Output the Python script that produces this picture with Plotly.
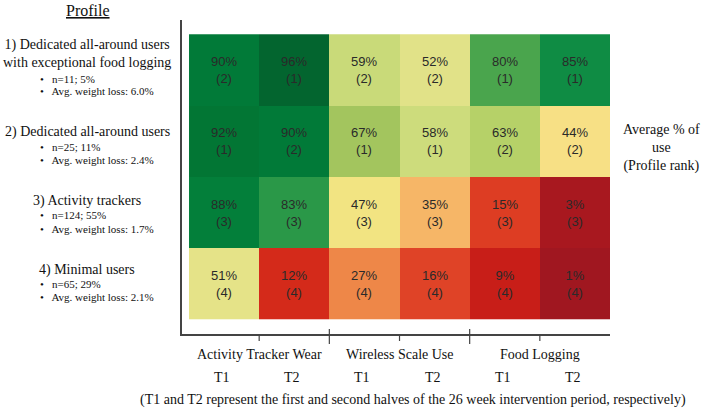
import plotly.graph_objects as go

# --- data ---
profiles = [
    "1) Dedicated all-around users<br>with exceptional food logging",
    "2) Dedicated all-around users",
    "3) Activity trackers",
    "4) Minimal users",
]
profile_n = ["n=11; 5%", "n=25; 11%", "n=124; 55%", "n=65; 29%"]
profile_loss = ["Avg. weight loss: 6.0%", "Avg. weight loss: 2.4%",
                "Avg. weight loss: 1.7%", "Avg. weight loss: 2.1%"]
measures = ["Activity Tracker Wear", "Wireless Scale Use", "Food Logging"]
periods = ["T1", "T2", "T1", "T2", "T1", "T2"]

pct_use = [
    [90, 96, 59, 52, 80, 85],
    [92, 90, 67, 58, 63, 44],
    [88, 83, 47, 35, 15, 3],
    [51, 12, 27, 16, 9, 1],
]
profile_rank = [
    [2, 1, 2, 2, 1, 1],
    [1, 2, 1, 1, 2, 2],
    [3, 3, 3, 3, 3, 3],
    [4, 4, 4, 4, 4, 4],
]

# red -> yellow -> green scale tuned to the original cell colours
scale_stops = [0.0, 0.03, 0.09, 0.12, 0.155, 0.27, 0.35, 0.44, 0.47, 0.515,
               0.585, 0.63, 0.67, 0.80, 0.83, 0.85, 0.88, 0.90, 0.92, 0.96, 1.0]
scale_colors = ["#9c1720", "#a8181f", "#c81e18", "#d42a1a", "#de4025", "#ee8748",
                "#f6b667", "#f7e085", "#f2e482", "#e3e389", "#cbdb7b", "#b6d168",
                "#a3c55e", "#4aa54d", "#2a9848", "#0f8c44", "#037f3a", "#017a38",
                "#027634", "#03652f", "#005a2a"]

W, H = 702, 410
L, R, T, B = 182, 610, 20, 334   # plot area in pixels


def px(x):
    return (x - L) / (R - L)


def py(y):
    return (B - y) / (B - T)


serif = "Liberation Serif"

cell_text = [[f"{p}%<br>({r})" for p, r in zip(prow, rrow)]
             for prow, rrow in zip(pct_use, profile_rank)]

fig = go.Figure(go.Heatmap(
    z=pct_use,
    x=list(range(len(periods))),
    y=list(range(len(profiles))),
    text=cell_text,
    texttemplate="%{text}",
    textfont=dict(family="Liberation Sans", size=13, color="#2a2a2a"),
    colorscale=[[s, c] for s, c in zip(scale_stops, scale_colors)],
    zmin=0, zmax=100,
    showscale=False,
    hoverinfo="skip",
))

fig.update_layout(
    width=W, height=H,
    margin=dict(l=L, r=W - R, t=T, b=H - B),
    paper_bgcolor="white",
    plot_bgcolor="white",
    showlegend=False,
)
fig.update_xaxes(
    range=[-0.6, 5.5], showgrid=False, zeroline=False, showticklabels=False,
    ticks="", showline=True, linecolor="#444444", linewidth=1.5,
)
fig.update_yaxes(
    range=[3.7, -0.7], showgrid=False, zeroline=False, showticklabels=False,
    ticks="", showline=True, linecolor="#444444", linewidth=1.5,
)

# tick marks at column boundaries: long ones between measures
for i in range(len(periods) - 1):
    xb = i + 0.5
    long_tick = (i % 2 == 1)
    fig.add_shape(
        type="line", xref="x", yref="paper",
        x0=xb, x1=xb,
        y0=5 / (B - T) if long_tick else 0,
        y1=-10 / (B - T) if long_tick else -7 / (B - T),
        line=dict(color="#444444", width=1.2),
    )

ann = []
# title
ann.append(dict(x=px(88), y=py(10), text="<u>Profile</u>",
                font=dict(family=serif, size=16, color="#111")))

# profile labels
label_y = [54, 132, 201, 270]
bullet_y = [[79, 91], [147, 160], [215, 229], [284, 297]]
for i, name in enumerate(profiles):
    ann.append(dict(x=px(87), y=py(label_y[i]), text=name,
                    font=dict(family=serif, size=14, color="#111")))
    for j, txt in enumerate([profile_n[i], profile_loss[i]]):
        ann.append(dict(x=px(38), y=py(bullet_y[i][j]), xanchor="left",
                        text="•   " + txt,
                        font=dict(family=serif, size=11, color="#111")))

# right label
ann.append(dict(x=px(661), y=py(148), text="Average % of<br>use<br>(Profile rank)",
                font=dict(family=serif, size=14, color="#111")))

# measure group labels and period labels
for k, m in enumerate(measures):
    ann.append(dict(x=2 * k + 0.5, xref="x", y=py(354), text=m,
                    font=dict(family=serif, size=14, color="#111")))
for i, p in enumerate(periods):
    ann.append(dict(x=i, xref="x", xshift=-2, y=py(377), text=p,
                    font=dict(family=serif, size=14, color="#111")))

ann.append(dict(x=px(413), y=py(400),
                text="(T1 and T2 represent the first and second halves of the "
                     "26 week intervention period, respectively)",
                font=dict(family=serif, size=14, color="#111")))

for a in ann:
    a.setdefault("xref", "paper")
    a.setdefault("yref", "paper")
    a.setdefault("showarrow", False)
    a.setdefault("xanchor", "center")
    a.setdefault("yanchor", "middle")
    fig.add_annotation(**a)

# page default body margin would push the figure 8px off
fig.write_html("out.html", config={"displayModeBar": False},
               post_script="document.body.style.margin='0';")
